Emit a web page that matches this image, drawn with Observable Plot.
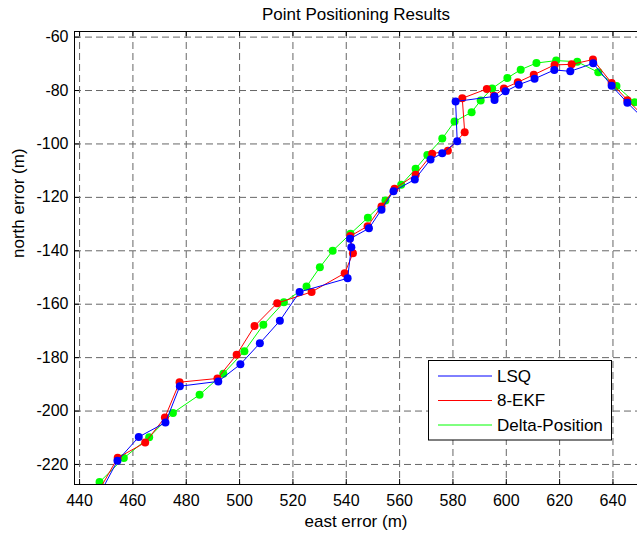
<!DOCTYPE html>
<html><head><meta charset="utf-8">
<script src="https://cdn.jsdelivr.net/npm/d3@7"></script>
<script src="https://cdn.jsdelivr.net/npm/@observablehq/plot@0.6"></script>
<style>
body{margin:0;background:#fff;}
#chart{position:relative;width:637px;height:533px;overflow:hidden;}
</style>
</head><body><div id="chart"></div>
<script>
const xTicks = [440, 460, 480, 500, 520, 540, 560, 580, 600, 620, 640];
const yTicks = [-60, -80, -100, -120, -140, -160, -180, -200, -220];
const seriesNames = ["LSQ", "8-EKF", "Delta-Position"];
const seriesColors = ["#0000ff", "#ff0000", "#00ff00"];

const lsqEast  = [446.0, 454.2, 462.2, 472.2, 477.6, 492.0, 500.3, 507.6, 515.1, 522.5, 540.5, 541.9, 541.4, 548.5, 553.2, 557.7, 565.7, 571.6, 576.0, 581.6, 581.0, 595.6, 595.6, 599.7, 604.7, 610.6, 618.0, 624.0, 632.6, 639.5, 645.4, 656.0];
const lsqNorth = [-234.0, -218.6, -209.7, -204.3, -190.7, -188.9, -182.5, -174.6, -166.2, -155.4, -150.3, -138.7, -135.5, -131.6, -124.6, -117.7, -113.3, -105.8, -103.5, -99.0, -84.1, -82.2, -83.5, -80.3, -77.8, -75.6, -72.3, -72.8, -69.8, -78.2, -84.6, -95.0];

const ekfEast  = [446.0, 454.3, 464.6, 472.0, 477.5, 491.7, 498.9, 505.6, 514.1, 527.0, 539.4, 542.5, 541.5, 548.0, 553.2, 558.1, 566.0, 572.2, 578.1, 584.4, 583.5, 592.7, 595.4, 599.1, 604.3, 610.3, 618.1, 624.5, 632.5, 639.5, 645.4, 655.0];
const ekfNorth = [-232.0, -217.5, -211.8, -202.4, -189.2, -187.8, -178.9, -168.2, -159.6, -155.4, -148.4, -140.9, -134.5, -130.8, -123.4, -116.8, -111.5, -103.7, -102.5, -95.6, -82.9, -79.4, -82.0, -79.2, -76.9, -74.1, -70.4, -70.2, -68.4, -77.2, -83.6, -93.0];

const dpEast  = [441.4, 447.5, 456.6, 466.1, 475.0, 485.0, 493.9, 501.8, 508.9, 516.6, 525.1, 530.1, 534.9, 541.6, 548.1, 554.7, 560.6, 566.0, 570.4, 576.0, 580.6, 587.0, 590.4, 594.7, 600.4, 605.4, 611.3, 618.7, 626.6, 634.5, 641.3, 648.2, 656.0];
const dpNorth = [-232.6, -226.6, -217.6, -209.8, -200.7, -193.9, -186.0, -177.6, -167.7, -159.3, -153.4, -146.2, -140.0, -133.6, -127.6, -121.2, -115.3, -109.3, -104.1, -98.0, -91.6, -88.1, -83.7, -79.2, -75.3, -72.2, -69.7, -68.8, -69.2, -73.2, -78.3, -84.4, -91.0];

const xDomain = [438.1, 649.2];
const yDomain = [-227.5, -57.9];

const W = 637, H = 533, mL = 74, mR = 0, mT = 31, mB = 49;
const fw = W - mL - mR, fh = H - mT - mB;
const FONT = "'Liberation Sans', Arial, Helvetica, sans-serif";

function rows(name, east, north) {
  return east.map((e, i) => ({series: name, east: e, north: north[i]}));
}
const all = [
  rows(seriesNames[2], dpEast, dpNorth),
  rows(seriesNames[1], ekfEast, ekfNorth),
  rows(seriesNames[0], lsqEast, lsqNorth)
];

const dataMarks = [];
for (const r of all) {
  dataMarks.push(Plot.line(r, {x: "east", y: "north", stroke: "series", strokeWidth: 1, clip: true}));
  dataMarks.push(Plot.dot(r, {x: "east", y: "north", fill: "series", r: 4, clip: true}));
}

const gridStyle = {stroke: "#666", strokeOpacity: 1, strokeWidth: 1, strokeDasharray: "7,4"};

const svg = Plot.plot({
  width: W, height: H,
  marginLeft: mL, marginRight: mR, marginTop: mT, marginBottom: mB,
  style: {fontFamily: FONT, fontSize: "16px", background: "#fff", color: "#000"},
  x: {domain: xDomain},
  y: {domain: yDomain},
  color: {domain: seriesNames, range: seriesColors},
  marks: [
    Plot.gridX(xTicks, gridStyle),
    Plot.gridY(yTicks, gridStyle),
    Plot.ruleX(xTicks, {insetTop: fh - 5, stroke: "#000"}),
    Plot.ruleX(xTicks, {insetBottom: fh - 5, stroke: "#000"}),
    Plot.ruleY(yTicks, {insetRight: fw - 5, stroke: "#000"}),
    ...dataMarks,
    Plot.ruleX([xDomain[0]], {stroke: "#000"}),
    Plot.ruleY(yDomain, {stroke: "#000"}),
    Plot.axisX(xTicks, {tickSize: 0, tickPadding: 10, label: null, fontSize: 16, tickFormat: d => String(d)}),
    Plot.axisY(yTicks, {tickSize: 0, tickPadding: 6, label: null, fontSize: 16, tickFormat: d => String(d)}),
    Plot.text(["Point Positioning Results"], {frameAnchor: "top", dy: -17, lineAnchor: "middle", fontSize: 17}),
    Plot.text(["east error (m)"], {frameAnchor: "bottom", dy: 37, lineAnchor: "middle", fontSize: 17}),
    Plot.text(["north error (m)"], {frameAnchor: "left", dx: -56, rotate: -90, lineAnchor: "middle", fontSize: 17})
  ]
});

// legend
const g = d3.select(svg).append("g").attr("font-family", FONT).attr("font-size", 17).attr("text-anchor", "start");
g.append("rect").attr("x", 428.5).attr("y", 360.5).attr("width", 183).attr("height", 79.5)
  .attr("fill", "#fff").attr("stroke", "#000").attr("stroke-width", 1);
seriesNames.forEach((name, i) => {
  const yy = 376 + i * 24.5;
  g.append("line").attr("x1", 438).attr("x2", 492).attr("y1", yy).attr("y2", yy)
    .attr("stroke", seriesColors[i]).attr("stroke-width", 1);
  g.append("text").attr("x", 497).attr("y", yy).attr("dy", "0.35em").attr("text-anchor", "start").attr("fill", "#000").text(name);
});

document.getElementById("chart").appendChild(svg);
</script>
</body></html>
